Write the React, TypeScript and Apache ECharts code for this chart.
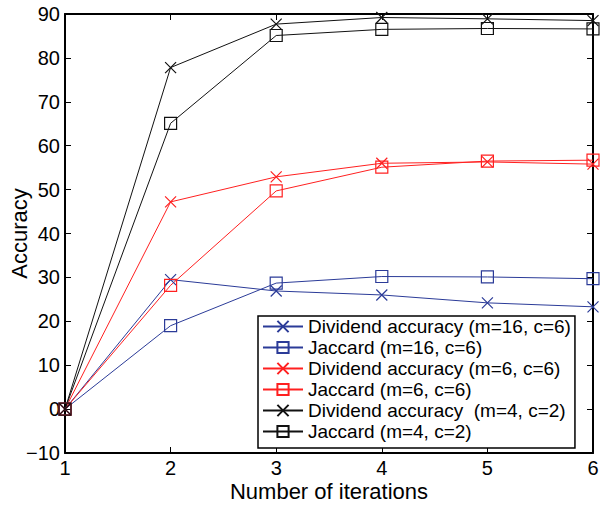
import React, { useEffect, useRef } from "react";
import * as echarts from "echarts";

const iterations = [1, 2, 3, 4, 5, 6];
const divM16 = [0, 29.5, 26.9, 26, 24.2, 23.3];
const jacM16 = [0, 19, 28.7, 30.2, 30.1, 29.7];
const divM6 = [0, 47.2, 52.9, 56, 56.3, 55.8];
const jacM6 = [0, 28.2, 49.7, 55.1, 56.5, 56.7];
const divM4 = [0, 77.8, 87.7, 89.2, 88.9, 88.5];
const jacM4 = [0, 65.1, 85.1, 86.5, 86.7, 86.6];

const names = [
  "Dividend accuracy (m=16, c=6)",
  "Jaccard (m=16, c=6)",
  "Dividend accuracy (m=6, c=6)",
  "Jaccard (m=6, c=6)",
  "Dividend accuracy  (m=4, c=2)",
  "Jaccard (m=4, c=2)",
];

const BLUE = "#2b3b98";
const RED = "#ff2020";
const BLACK = "#111111";
const FONT = "'Liberation Sans', Arial, sans-serif";
const CROSS = "path://M0,0L10,10M10,0L0,10";

function mk(name: string, vals: number[], color: string, cross: boolean) {
  return {
    name,
    type: "line",
    data: iterations.map((x, i) => [x, vals[i]]),
    symbol: cross ? CROSS : "rect",
    symbolSize: cross ? 11 : 12,
    lineStyle: { color, width: 1 },
    itemStyle: { color: "transparent", borderColor: color, borderWidth: 1.2 },
    emphasis: { disabled: true },
  };
}

export default function App() {
  const ref = useRef<HTMLDivElement>(null);
  useEffect(() => {
    if (!ref.current) return;
    const chart = echarts.init(ref.current, undefined, { renderer: "svg" });
    const axisCommon = {
      axisLine: { show: true, onZero: false, lineStyle: { color: "#000", width: 2 } },
      axisTick: { show: true, inside: true, length: 6, lineStyle: { color: "#000", width: 1 } },
      splitLine: { show: false },
    };
    chart.setOption({
      animation: false,
      backgroundColor: "#fff",
      grid: {
        left: 65,
        right: 7,
        top: 14,
        bottom: 52,
        containLabel: false,
        outerBoundsMode: "none",
      },
      xAxis: [
        {
          type: "value",
          min: 1,
          max: 6,
          interval: 1,
          position: "bottom",
          name: "Number of iterations",
          nameLocation: "middle",
          nameGap: 27,
          nameMoveOverlap: false,
          nameTextStyle: { fontFamily: FONT, fontSize: 22, color: "#000" },
          axisLabel: { fontFamily: FONT, fontSize: 20, color: "#000", margin: 5 },
          ...axisCommon,
        },
        {
          type: "value",
          min: 1,
          max: 6,
          interval: 1,
          position: "top",
          axisLabel: { show: false },
          ...axisCommon,
        },
      ],
      yAxis: [
        {
          type: "value",
          min: -10,
          max: 90,
          interval: 10,
          position: "left",
          name: "Accuracy",
          nameLocation: "middle",
          nameGap: 35,
          nameMoveOverlap: false,
          nameTextStyle: { fontFamily: FONT, fontSize: 22, color: "#000" },
          axisLabel: {
            fontFamily: FONT,
            fontSize: 20,
            color: "#000",
            margin: 5,
            formatter: (v: number) => (v < 0 ? "\u2212" + Math.abs(v) : String(v)),
          },
          ...axisCommon,
        },
        {
          type: "value",
          min: -10,
          max: 90,
          interval: 10,
          position: "right",
          axisLabel: { show: false },
          ...axisCommon,
        },
      ],
      legend: {
        orient: "vertical",
        left: 258,
        top: 316,
        backgroundColor: "#fff",
        borderColor: "#000",
        borderWidth: 1.5,
        borderRadius: 0,
        padding: [0, 4, 6, 4],
        itemWidth: 40,
        itemHeight: 14,
        itemGap: 0,
        textStyle: { fontFamily: FONT, fontSize: 19, color: "#000", lineHeight: 21 },
        data: names,
      },
      series: [
        mk(names[0], divM16, BLUE, true),
        mk(names[1], jacM16, BLUE, false),
        mk(names[2], divM6, RED, true),
        mk(names[3], jacM6, RED, false),
        mk(names[4], divM4, BLACK, true),
        mk(names[5], jacM4, BLACK, false),
      ],
    });
    return () => chart.dispose();
  }, []);
  return (
    <div
      ref={ref}
      style={{ position: "fixed", left: 0, top: 0, width: 600, height: 505 }}
    />
  );
}
